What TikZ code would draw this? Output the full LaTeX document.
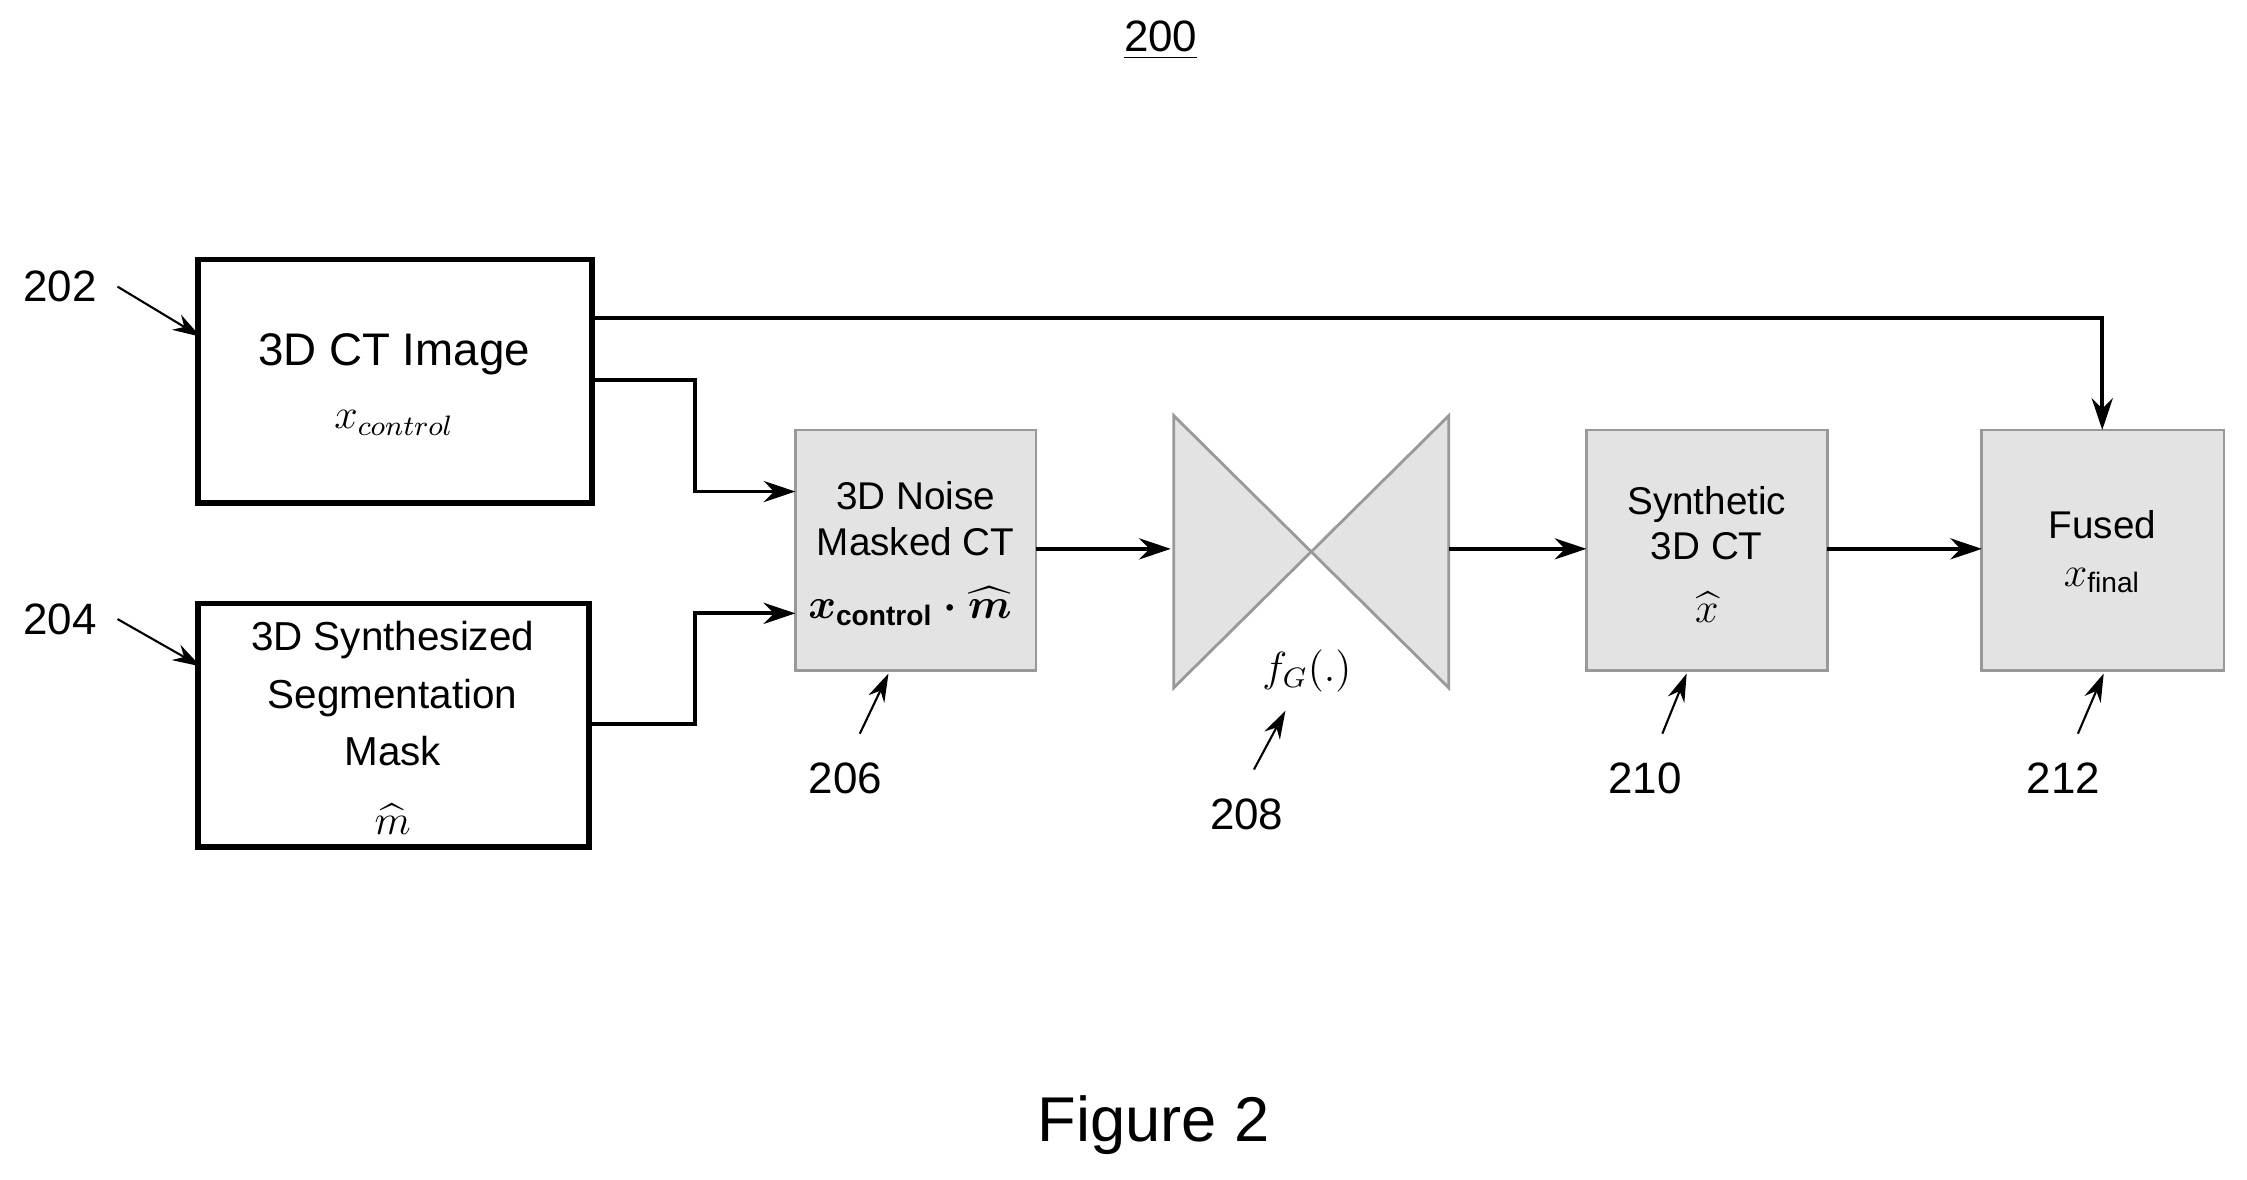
\documentclass[tikz,border=0pt]{standalone}
\usepackage{fontspec}
\setmainfont{Liberation Sans}
\usepackage{amsmath}
\usetikzlibrary{arrows.meta}
\begin{document}
\begin{tikzpicture}[x=0.01433cm,y=-0.01433cm,
  wbox/.style={draw,line width=1.6pt,fill=white},
  gbox/.style={draw=gray!80,line width=0.8pt,fill=gray!22},
  arr/.style={-{Stealth[length=9pt,width=6pt]},line width=1.1pt},
  lab/.style={font=\fontsize{12.5}{14}\selectfont},
  larr/.style={-{Stealth[length=8pt,width=5pt]},line width=0.6pt},
  txt/.style={font=\fontsize{12}{14}\selectfont,align=center,inner sep=0pt}]
\useasboundingbox (0,0) rectangle (1568,823);
\node[lab] (t200) at (810,28) {\underline{200}};
\draw[wbox] (138,181) rectangle (413,351);
\node[txt,font=\fontsize{13}{15}\selectfont] (a1) at (275,247) {3D CT Image};
\node[txt] (a2) at (275,295) {$x_{control}$};
\coordinate (b202) at (413,222);
\coordinate (c202) at (413,265);
\draw[wbox] (138,421) rectangle (411,591);
\node[txt,font=\fontsize{11.5}{16.3}\selectfont] (b1) at (274,484) {3D Synthesized\\Segmentation\\Mask};
\node[txt] (b2) at (274,572) {$\widehat{m}$};
\coordinate (b204) at (411,505);
\draw[gbox] (555,300) rectangle (723,468);
\node[txt,font=\fontsize{11}{13}\selectfont] (c1) at (639,362) {3D Noise\\Masked CT};
\node[txt] (c2) at (635,423) {$\boldsymbol{x_{\mathrm{control}}\cdot\widehat{m}}$};
\coordinate (l206a) at (555,343);
\coordinate (l206b) at (555,428);
\coordinate (r206) at (723,383);
\draw[gbox] (819,290) -- (915,385) -- (819,480) -- cycle;
\draw[gbox] (1011,290) -- (915,385) -- (1011,480) -- cycle;
\node[txt] (fg) at (912,468) {$f_G(.)$};
\coordinate (l208) at (817,383);
\coordinate (r208) at (1011,383);
\draw[gbox] (1107,300) rectangle (1275,468);
\node[txt,font=\fontsize{11}{13}\selectfont] (d1) at (1191,365) {Synthetic\\3D CT};
\node[txt] (d2) at (1191,424) {$\widehat{x}$};
\coordinate (l210) at (1107,383);
\coordinate (r210) at (1275,383);
\draw[gbox] (1383,300) rectangle (1552,468);
\node[txt,font=\fontsize{11}{13}\selectfont] (e1) at (1467,366) {Fused};
\node[txt] (e2) at (1467,405) {$x_{\mathrm{final}}$};
\coordinate (l212) at (1383,383);
\coordinate (t212) at (1467,300);
\draw[arr] (b202) -| (t212);
\draw[arr] (c202) -- (485,265) |- (l206a);
\draw[arr] (b204) -- (485,505) |- (l206b);
\draw[arr] (r206) -- (l208);
\draw[arr] (r208) -- (l210);
\draw[arr] (r210) -- (l212);
\node[lab] (n202) at (42,200) {202};
\node[lab] (n204) at (42,432) {204};
\node[lab] (n206l) at (590,543) {206};
\node[lab] (n208l) at (870,568) {208};
\node[lab] (n210l) at (1148,543) {210};
\node[lab] (n212l) at (1440,543) {212};
\draw[larr] (82,200) -- (140,235);
\draw[larr] (82,432) -- (140,465);
\draw[larr] (600,512) -- (620,470);
\draw[larr] (875,537) -- (897,496);
\draw[larr] (1160,512) -- (1177,470);
\draw[larr] (1450,512) -- (1468,470);
\node[font=\fontsize{18}{20}\selectfont] (fig) at (805,785) {Figure 2};
\end{tikzpicture}
\end{document}
